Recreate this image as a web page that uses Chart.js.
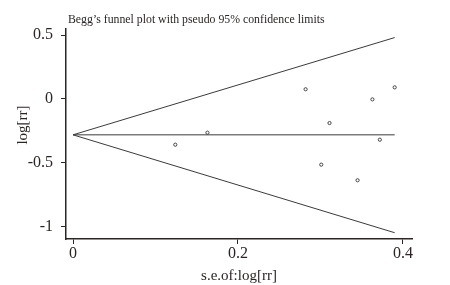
<!doctype html>
<html lang="en">
  <head>
    <meta charset="UTF-8" />
    <title>Begg's funnel plot</title>
    <style>
      html, body {
        margin: 0;
        padding: 0;
        background: #fff;
      }
      .wrap {
        position: relative;
        width: 450px;
        height: 285px;
      }
    </style>
  </head>
  <body>
    <div class="wrap"><canvas id="funnel" width="450" height="285"></canvas></div>

    <script src="https://cdn.jsdelivr.net/npm/chart.js"></script>
    <script>
      // studies: standard error and log rr
      var studySe = [0.124, 0.163, 0.282, 0.301, 0.311, 0.345, 0.363, 0.372, 0.390];
      var studyLogRr = [-0.357, -0.263, 0.076, -0.513, -0.188, -0.635, -0.003, -0.318, 0.091];

      // pseudo 95% limits and pooled estimate (line end points)
      var limitSe = [0, 0.39];
      var upperLimit = [-0.28, 0.48];
      var lowerLimit = [-0.28, -1.045];
      var pooledLine = [-0.28, -0.28];

      var xTicks = [0, 0.2, 0.4];
      var yTicks = [-1, -0.5, 0, 0.5];

      var chartTitle = "Begg\u2019s funnel plot with pseudo 95% confidence limits";
      var xTitle = "s.e.of:log[rr]";
      var yTitle = "log[rr]";

      function pares(xs, ys) {
        return xs.map(function (x, i) { return { x: x, y: ys[i] }; });
      }

      var ink = "#2b2624";
      var serif = "'Liberation Serif', 'Times New Roman', serif";

      // titulo pequeno em cima e rotulo do eixo y
      var tituloPlugin = {
        id: "tituloPlugin",
        afterDraw: function (chart) {
          var ctx = chart.ctx;
          ctx.save();
          ctx.font = "11.8px " + serif;
          ctx.fillStyle = ink;
          ctx.textBaseline = "middle";
          ctx.textAlign = "left";
          ctx.fillText(chartTitle, 68, 20);

          ctx.font = "15px " + serif;
          ctx.textAlign = "center";
          ctx.translate(23, 125);
          ctx.rotate(-Math.PI / 2);
          ctx.fillText(yTitle, 0, 0);
          ctx.restore();
        }
      };

      var lineStyle = {
        showLine: true,
        borderColor: "#3a3a3a",
        borderWidth: 1,
        pointRadius: 0,
        fill: false
      };

      var ctx = document.getElementById("funnel").getContext("2d");
      var chart = new Chart(ctx, {
        type: "scatter",
        data: {
          datasets: [
            Object.assign({ data: pares(limitSe, upperLimit) }, lineStyle),
            Object.assign({ data: pares(limitSe, lowerLimit) }, lineStyle),
            Object.assign({ data: pares(limitSe, pooledLine) }, lineStyle),
            {
              data: pares(studySe, studyLogRr),
              pointRadius: 1.6,
              pointBorderWidth: 1,
              pointBorderColor: "#444",
              pointBackgroundColor: "#fff"
            }
          ]
        },
        options: {
          responsive: false,
          animation: false,
          layout: { padding: { left: 0, right: 38, top: 29, bottom: 0 } },
          plugins: {
            legend: { display: false },
            tooltip: { enabled: false }
          },
          scales: {
            x: {
              type: "linear",
              min: -0.0085,
              max: 0.411,
              afterBuildTicks: function (s) {
                s.ticks = xTicks.map(function (v) { return { value: v }; });
              },
              afterFit: function (s) { s.height = 46; },
              border: { display: true, color: ink, width: 1.5 },
              grid: { drawOnChartArea: false, drawTicks: true, tickLength: 5, color: ink },
              ticks: {
                color: ink,
                padding: 0,
                maxRotation: 0,
                font: { family: serif, size: 16 },
                callback: function (v) { return String(v); }
              },
              title: {
                display: true,
                text: xTitle,
                color: ink,
                padding: { top: -6, bottom: 0 },
                font: { family: serif, size: 15 }
              }
            },
            y: {
              type: "linear",
              min: -1.094,
              max: 0.547,
              afterBuildTicks: function (s) {
                s.ticks = yTicks.map(function (v) { return { value: v }; });
              },
              afterFit: function (s) { s.width = 66; },
              border: { display: true, color: ink, width: 1.5 },
              grid: { drawOnChartArea: false, drawTicks: true, tickLength: 5, color: ink },
              ticks: {
                color: ink,
                padding: 8,
                font: { family: serif, size: 16 },
                callback: function (v) { return String(v); }
              },
              title: { display: false }
            }
          }
        },
        plugins: [tituloPlugin]
      });
    </script>
  </body>
</html>
